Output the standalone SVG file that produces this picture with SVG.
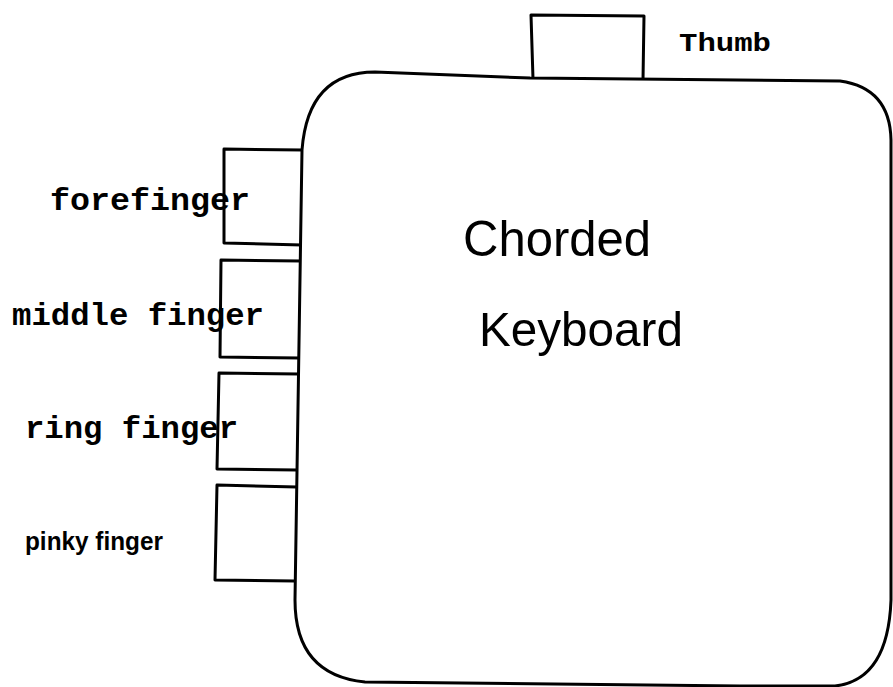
<svg xmlns="http://www.w3.org/2000/svg" width="893" height="687" viewBox="0 0 893 687">
<style>
.s{fill:none;stroke:#000;stroke-width:3;stroke-linejoin:round}
.m{font-family:"Liberation Mono","Courier New",monospace;font-weight:bold;fill:#000}
.a{font-family:"Liberation Sans",Arial,sans-serif;fill:#000}
</style>
<rect width="893" height="687" fill="#fff"/>
<g id="thumb">
<path class="s" d="M533,79 L531,15 L644,16 L643,80"/>
<text class="m" x="679" y="51" font-size="25" textLength="92" lengthAdjust="spacingAndGlyphs">Thumb</text>
</g>
<g id="forefinger">
<path class="s" d="M303,150 L224,149 L224,243 L302,245"/>
<text class="m" x="50" y="210" font-size="32" textLength="200" lengthAdjust="spacingAndGlyphs">forefinger</text>
</g>
<g id="middle">
<path class="s" d="M301,261 L221,260 L220,357 L300,358"/>
<text class="m" x="12" y="325" font-size="32" textLength="252" lengthAdjust="spacingAndGlyphs">middle finger</text>
</g>
<g id="ring">
<path class="s" d="M299,374 L219,373 L217,469 L297,470"/>
<text class="m" x="25" y="438" font-size="32" textLength="213" lengthAdjust="spacingAndGlyphs">ring finger</text>
</g>
<g id="pinky">
<path class="s" d="M297,487 L217,485 L215,580 L295,581"/>
<text class="a" x="25" y="550" font-size="25" textLength="138" lengthAdjust="spacingAndGlyphs" font-weight="bold">pinky finger</text>
</g>
<g id="keyboard">
<path class="s" d="M302,150 Q308,72 375,72 L530,78 L840,81 Q890,88 891,140 L891,600 Q888,680 835,686 L740,686 L365,682 Q295,675 295,600 Z"/>
<text class="a" x="463" y="256" font-size="50" textLength="188" lengthAdjust="spacingAndGlyphs">Chorded</text>
<text class="a" x="479" y="346" font-size="49" textLength="204" lengthAdjust="spacingAndGlyphs">Keyboard</text>
</g>
</svg>
